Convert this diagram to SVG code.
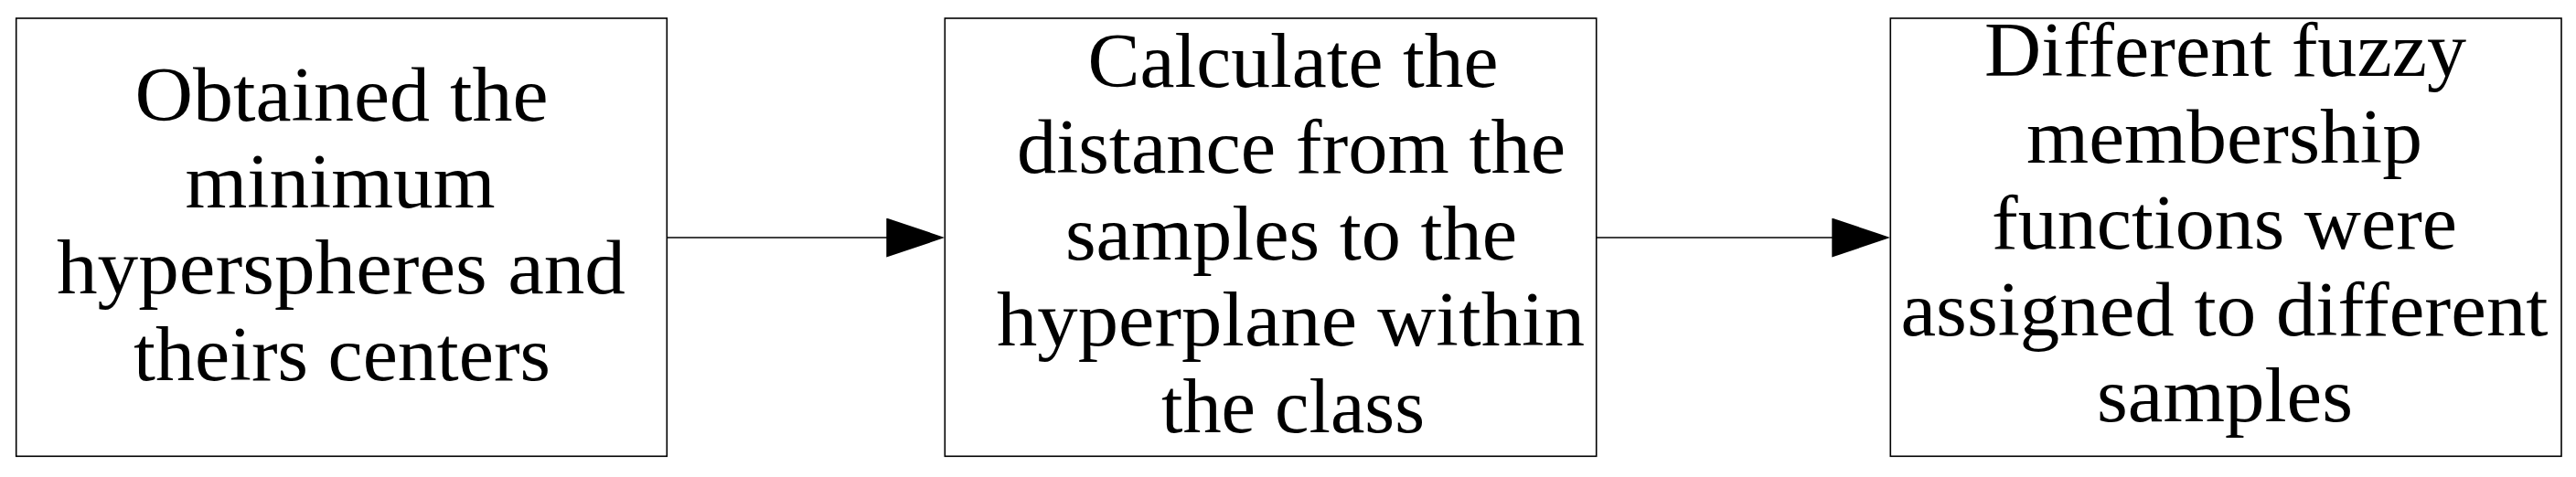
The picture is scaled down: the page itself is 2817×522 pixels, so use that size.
<svg xmlns="http://www.w3.org/2000/svg" width="2817" height="522" viewBox="0 0 2817 522">
<style>
.box{fill:#ffffff;stroke:#000000;stroke-width:1.6}
.lbl{font-family:"Liberation Serif","Times New Roman",serif;font-size:84px;fill:#000000;text-anchor:middle}
.conn{stroke:#000000;stroke-width:1.7;fill:none}
</style>
<defs>
<marker id="arrow" markerUnits="userSpaceOnUse" viewBox="0 0 64 43" refX="59" refY="21.5" markerWidth="64" markerHeight="43" orient="auto">
<polygon points="0,0 64,21.5 0,43" fill="#000000"/>
</marker>
</defs>
<rect width="2817" height="522" fill="#ffffff"/>
<g id="node1">
<rect class="box" x="17.7" y="20" width="711.6" height="479.3"/>
<text class="lbl" x="373.5" y="132" textLength="452" lengthAdjust="spacingAndGlyphs">Obtained the</text>
<text class="lbl" x="372" y="226.5" textLength="339" lengthAdjust="spacingAndGlyphs">minimum</text>
<text class="lbl" x="373" y="321" textLength="622" lengthAdjust="spacingAndGlyphs">hyperspheres and</text>
<text class="lbl" x="374" y="415.5" textLength="456" lengthAdjust="spacingAndGlyphs">theirs centers</text>
</g>
<g id="node2">
<rect class="box" x="1033.3" y="20" width="712.4" height="479.3"/>
<text class="lbl" x="1414" y="95" textLength="449" lengthAdjust="spacingAndGlyphs">Calculate the</text>
<text class="lbl" x="1412" y="189" textLength="600" lengthAdjust="spacingAndGlyphs">distance from the</text>
<text class="lbl" x="1412" y="283.5" textLength="494" lengthAdjust="spacingAndGlyphs">samples to the</text>
<text class="lbl" x="1411.5" y="378" textLength="643" lengthAdjust="spacingAndGlyphs">hyperplane within</text>
<text class="lbl" x="1414" y="472.5" textLength="288" lengthAdjust="spacingAndGlyphs">the class</text>
</g>
<g id="node3">
<rect class="box" x="2067.3" y="20" width="733.7" height="479.3"/>
<text class="lbl" x="2433.5" y="83" textLength="527" lengthAdjust="spacingAndGlyphs">Different fuzzy</text>
<text class="lbl" x="2432.5" y="177.5" textLength="433" lengthAdjust="spacingAndGlyphs">membership</text>
<text class="lbl" x="2432.5" y="272" textLength="509" lengthAdjust="spacingAndGlyphs">functions were</text>
<text class="lbl" x="2432.5" y="366.5" textLength="708" lengthAdjust="spacingAndGlyphs">assigned to different</text>
<text class="lbl" x="2433" y="461" textLength="280" lengthAdjust="spacingAndGlyphs">samples</text>
</g>
<g id="connectors">
<line class="conn" x1="729.3" y1="260" x2="1028.3" y2="260" marker-end="url(#arrow)"/>
<line class="conn" x1="1745.7" y1="260" x2="2062.3" y2="260" marker-end="url(#arrow)"/>
</g>
</svg>
